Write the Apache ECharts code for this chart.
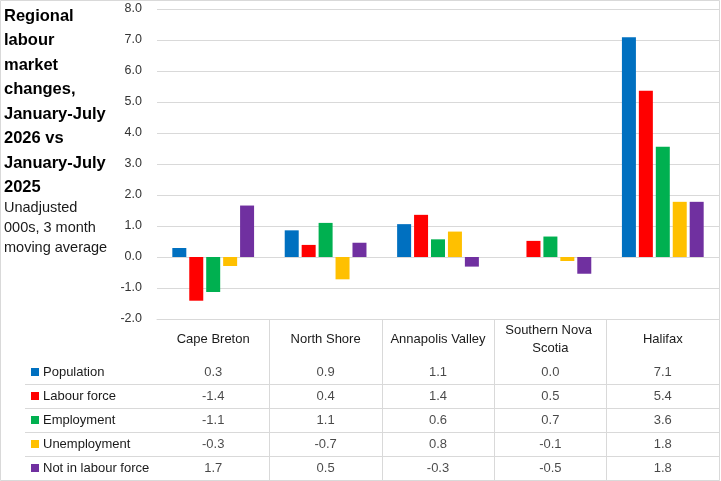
<!DOCTYPE html>
<html>
<head>
<meta charset="utf-8">
<script src="https://cdn.jsdelivr.net/npm/echarts@6/dist/echarts.min.js"></script>
<style>
html,body{margin:0;padding:0;background:#fff;}
#c{width:721px;height:481px;}
</style>
</head>
<body>
<div id="c"></div>
<script>
const categories = ['Cape Breton', 'North Shore', 'Annapolis Valley', 'Southern Nova Scotia', 'Halifax'];
const seriesNames = ['Population', 'Labour force', 'Employment', 'Unemployment', 'Not in labour force'];
const population = [0.29, 0.86, 1.06, 0.0, 7.09];
const labourForce = [-1.41, 0.39, 1.36, 0.52, 5.36];
const employment = [-1.13, 1.1, 0.57, 0.66, 3.56];
const unemployment = [-0.29, -0.72, 0.82, -0.13, 1.78];
const notInLabourForce = [1.66, 0.46, -0.31, -0.54, 1.78];
const yTicks = [-2, -1, 0, 1, 2, 3, 4, 5, 6, 7, 8];
const colors = ['#0070C0', '#FF0000', '#00B050', '#FFC000', '#7030A0'];

const allValues = [population, labourForce, employment, unemployment, notInLabourForce];
const FONT = 'Liberation Sans';
const fmt = v => (Math.round(v * 10) / 10).toFixed(1);

const barSeries = seriesNames.map((name, s) => ({
  type: 'bar', name: name, xAxisIndex: 0, yAxisIndex: 0,
  data: allValues[s], barWidth: 14, barGap: '21%',
  itemStyle: { color: colors[s] }, silent: true
}));

const tableSeries = seriesNames.map((name, s) => ({
  type: 'scatter', xAxisIndex: 1, yAxisIndex: 1,
  symbolSize: 1, itemStyle: { color: 'rgba(0,0,0,0)' }, silent: true,
  data: categories.map((c, i) => [c, name, allValues[s][i]]),
  label: {
    show: true, position: 'inside',
    formatter: p => fmt(p.value[2]),
    fontFamily: FONT, fontSize: 13, color: '#1a1a1a'
  }
}));

const rich = { t: { fontFamily: FONT, fontSize: 13, color: '#1a1a1a', padding: [0, 0, 0, 4] } };
seriesNames.forEach((n, s) => { rich['s' + s] = { width: 8, height: 8, backgroundColor: colors[s] }; });

const chart = echarts.init(document.getElementById('c'), null, { renderer: 'canvas' });
chart.setOption({
  animation: false,
  backgroundColor: '#fff',
  title: {
    text: 'Regional\nlabour\nmarket\nchanges,\nJanuary-July\n2026 vs\nJanuary-July\n2025',
    subtext: 'Unadjusted\n000s, 3 month\nmoving average',
    left: 4, top: 4, padding: 0, itemGap: -2,
    textStyle: { fontFamily: FONT, fontSize: 16.5, fontWeight: 'bold', lineHeight: 24.5, color: '#000' },
    subtextStyle: { fontFamily: FONT, fontSize: 14.5, lineHeight: 20, color: '#1a1a1a' }
  },
  graphic: [{
    type: 'rect', silent: true, z: 100,
    shape: { x: 0.5, y: 0.5, width: 719, height: 480 },
    style: { fill: 'none', stroke: '#d9d9d9', lineWidth: 1 }
  }],
  grid: [
    { left: 157, right: 2, top: 9, height: 310 },
    { left: 157, right: 2, top: 360, height: 120 },
    { left: 25, right: 2, top: 360, height: 120 }
  ],
  xAxis: [
    {
      type: 'category', gridIndex: 0, data: categories,
      axisLine: { show: true, onZero: false, lineStyle: { color: '#d9d9d9' } },
      axisTick: { show: true, length: 161, interval: (i) => i !== 0, lineStyle: { color: '#d9d9d9' } },
      axisLabel: {
        interval: 0, margin: 20, verticalAlign: 'middle', width: 100, overflow: 'break',
        lineHeight: 18, fontFamily: FONT, fontSize: 13, color: '#1a1a1a'
      }
    },
    {
      type: 'category', gridIndex: 1, data: categories, show: false
    },
    {
      type: 'value', gridIndex: 2, show: false
    }
  ],
  yAxis: [
    {
      type: 'value', gridIndex: 0, min: yTicks[0], max: yTicks[yTicks.length - 1], interval: 1,
      axisLine: { show: false }, axisTick: { show: false },
      splitLine: { lineStyle: { color: '#d9d9d9' } },
      axisLabel: { margin: 15, formatter: v => v.toFixed(1), fontFamily: FONT, fontSize: 12.5, color: '#333' }
    },
    {
      type: 'category', gridIndex: 1, data: seriesNames, inverse: true, show: false
    },
    {
      type: 'category', gridIndex: 2, data: seriesNames, inverse: true,
      axisLine: { show: false }, axisTick: { show: false },
      splitLine: { show: true, showMinLine: false, lineStyle: { color: '#d9d9d9' } },
      axisLabel: {
        inside: true, margin: 6, align: 'left',
        formatter: (v, i) => '{s' + i + '|}{t|' + v + '}',
        rich: rich
      }
    }
  ],
  series: barSeries.concat(tableSeries)
});
</script>
</body>
</html>
